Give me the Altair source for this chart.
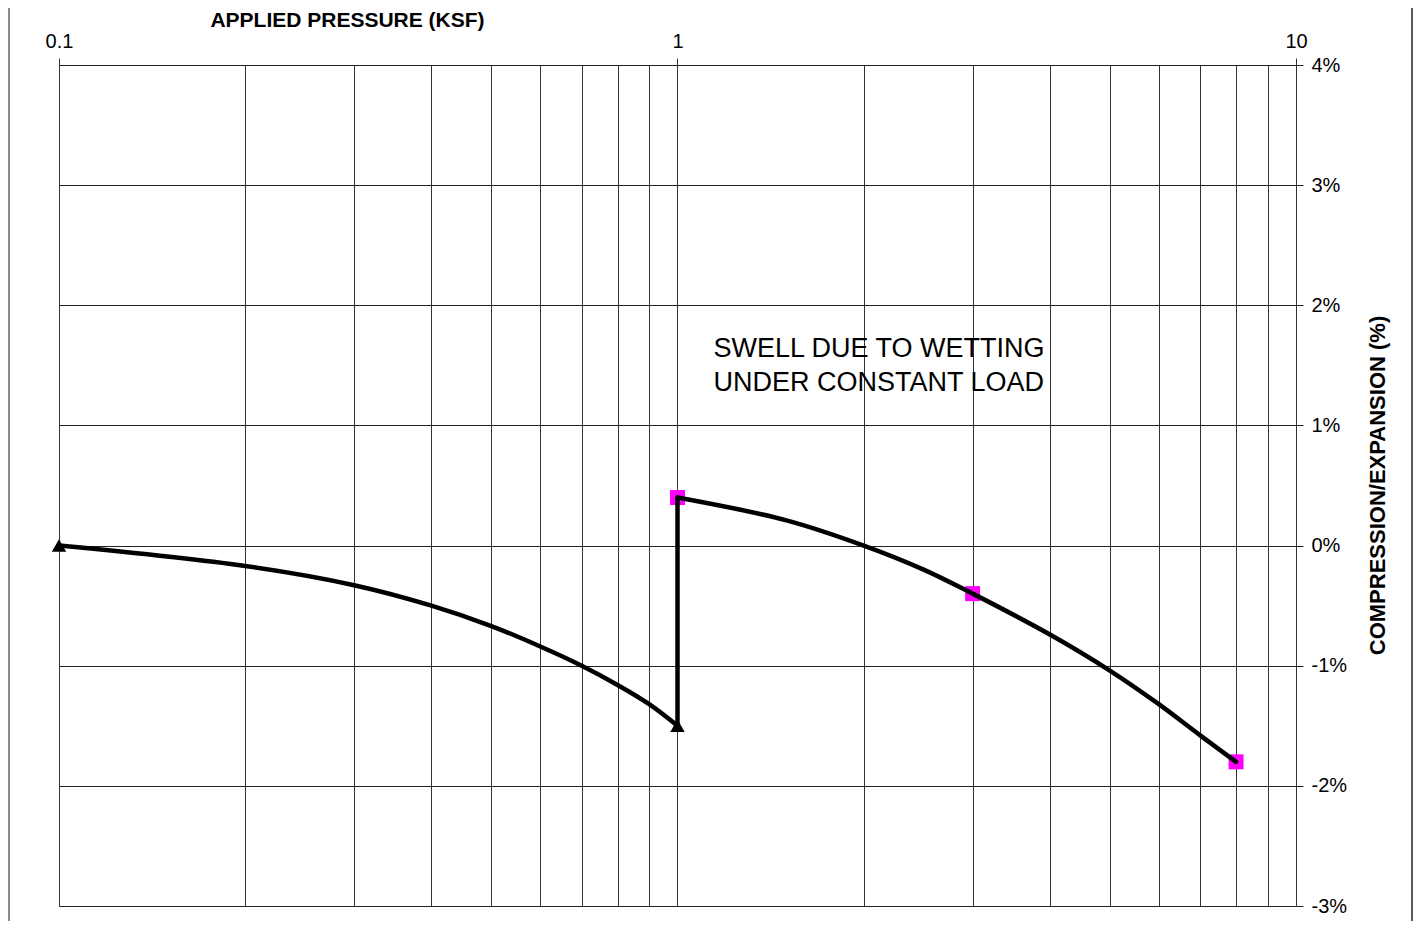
import altair as alt
import pandas as pd

# ---- data ----
dry_p = [0.1, 0.2, 0.3, 0.4, 0.5, 0.6, 0.7, 0.8, 0.9, 1.0]
dry_v = [0.0, -0.17, -0.33, -0.5, -0.67, -0.84, -1.0, -1.16, -1.32, -1.5]

jump_p = [1.0, 1.0]
jump_v = [-1.5, 0.4]

wet_p = [1.0, 1.5, 2.0, 2.5, 3.0, 4.0, 5.0, 6.0, 7.0, 8.0]
wet_v = [0.4, 0.21, 0.0, -0.2, -0.4, -0.74, -1.04, -1.32, -1.58, -1.8]

tri_p = [0.1, 1.0]
tri_v = [0.0, -1.5]

sq_p = [1.0, 3.0, 8.0]
sq_v = [0.4, -0.4, -1.8]

x_grid = [0.1, 0.2, 0.3, 0.4, 0.5, 0.6, 0.7, 0.8, 0.9,
          1, 2, 3, 4, 5, 6, 7, 8, 9, 10]
x_labels = [0.1, 1, 10]
y_ticks = [-3, -2, -1, 0, 1, 2, 3, 4]

note_lines = ["SWELL DUE TO WETTING", "UNDER CONSTANT LOAD"]
note_x = [1.143, 1.143]
note_y = [1.64, 1.357]

FONT = "Liberation Sans"

curve = pd.DataFrame(
    {"p": dry_p + jump_p + wet_p,
     "v": dry_v + jump_v + wet_v,
     "s": ["dry"] * len(dry_p) + ["jump"] * len(jump_p) + ["wet"] * len(wet_p),
     "o": list(range(len(dry_p))) + list(range(len(jump_p))) + list(range(len(wet_p)))}
)
tri = pd.DataFrame({"p": tri_p, "v": tri_v})
sq = pd.DataFrame({"p": sq_p, "v": sq_v})
notes = pd.DataFrame({"p": note_x, "v": note_y, "t": note_lines})
grid_df = pd.DataFrame({"p": x_grid})
ytick_df = pd.DataFrame({"v": y_ticks})

xs = alt.Scale(type="log", domain=[0.1, 10], nice=False)
ys = alt.Scale(domain=[-3, 4], nice=False)

# gridlines (vertical) via an axis with all minor values
grid_layer = alt.Chart(grid_df).mark_point(opacity=0).encode(
    x=alt.X("p:Q", scale=xs,
            axis=alt.Axis(orient="bottom", values=x_grid, grid=True, gridColor="#333",
                          gridWidth=1, labels=False, ticks=False, domain=False, title=None)),
    y=alt.value(0),
)

# labelled top axis
xaxis_layer = alt.Chart(tri).mark_point(opacity=0).encode(
    x=alt.X("p:Q", scale=xs,
            axis=alt.Axis(orient="top", values=x_labels, format="~g", grid=False,
                          ticks=True, tickSize=7, tickColor="#333", domain=False,
                          labelFont=FONT, labelFontSize=20, labelColor="black",
                          labelPadding=7, labelFlush=False,
                          title="APPLIED PRESSURE (KSF)", titleFont=FONT,
                          titleFontSize=21, titleFontWeight="bold", titleColor="black",
                          titleX=288, titleY=-45, titleAlign="center",
                          titleBaseline="middle", titleAngle=0)),
    y=alt.Y("v:Q", scale=ys, axis=None),
)

# right axis with horizontal grid
yaxis_layer = alt.Chart(ytick_df).mark_point(opacity=0).encode(
    x=alt.value(0),
    y=alt.Y("v:Q", scale=ys,
            axis=alt.Axis(orient="right", values=y_ticks, grid=True, gridColor="#222",
                          gridWidth=1, ticks=True, tickSize=7, tickColor="#222",
                          domain=False, labelExpr="datum.value + '%'",
                          labelFont=FONT, labelFontSize=20, labelColor="black",
                          labelPadding=8, labelFlush=False, labelBaseline="middle",
                          title="COMPRESSION/EXPANSION (%)", titleFont=FONT,
                          titleFontSize=22, titleFontWeight="bold", titleColor="black",
                          titleAngle=270, titleX=81, titleY=420, titleAlign="center",
                          titleBaseline="middle")),
)

squares = alt.Chart(sq).mark_point(shape="square", filled=True, color="#FF00FF",
                                   size=225, opacity=1).encode(
    x=alt.X("p:Q", scale=xs, axis=None),
    y=alt.Y("v:Q", scale=ys, axis=None),
)

lines = alt.Chart(curve).mark_line(color="black", strokeWidth=4.5, interpolate="catmull-rom",
                                   strokeCap="round", strokeJoin="round").encode(
    x=alt.X("p:Q", scale=xs, axis=None),
    y=alt.Y("v:Q", scale=ys, axis=None),
    detail="s:N",
    order="o:Q",
)

triangles = alt.Chart(tri).mark_point(shape="triangle-up", filled=True, color="black",
                                      size=210, opacity=1).encode(
    x=alt.X("p:Q", scale=xs, axis=None),
    y=alt.Y("v:Q", scale=ys, axis=None),
)

text = alt.Chart(notes).mark_text(font=FONT, fontSize=27, align="left",
                                  baseline="middle", color="black").encode(
    x=alt.X("p:Q", scale=xs, axis=None),
    y=alt.Y("v:Q", scale=ys, axis=None),
    text="t:N",
)

# outer frame lines (left and right edges of the chart area)
frame = alt.Chart(pd.DataFrame({"k": [0]})).mark_rule(color="#666", strokeWidth=1.5).encode(
    x=alt.value(-50), y=alt.value(-57), y2=alt.value(856)
)
frame_r = alt.Chart(pd.DataFrame({"k": [0]})).mark_rule(color="#222", strokeWidth=1.5).encode(
    x=alt.value(1353), y=alt.value(-57), y2=alt.value(856)
)

chart = alt.layer(
    grid_layer, xaxis_layer, yaxis_layer, squares, lines, triangles, text, frame, frame_r
).resolve_axis(x="independent", y="independent").properties(
    width=1237, height=841,
    autosize=alt.AutoSizeParams(type="none"),
    padding={"left": 51, "top": 57, "right": 117, "bottom": 15},
).configure_view(stroke="#333", strokeWidth=1).configure(background="white")

chart.save("out.html", embed_options={"renderer": "svg", "actions": False})
